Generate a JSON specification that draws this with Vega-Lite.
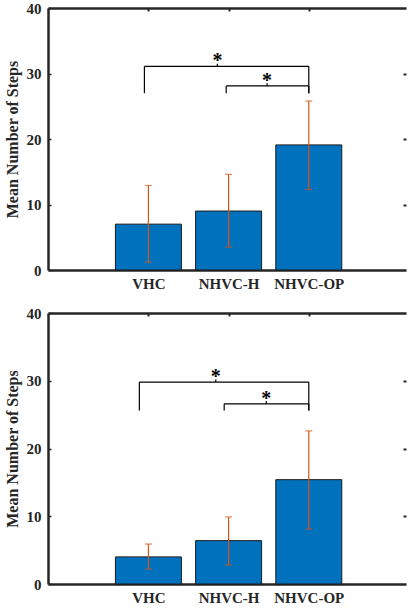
{
  "$schema": "https://vega.github.io/schema/vega-lite/v6.json",
  "background": "white",
  "padding": {"left": 4, "top": 1, "right": 0, "bottom": 0},
  "spacing": 15,
  "config": {
    "font": "Liberation Serif",
    "view": {"stroke": null},
    "axis": {
      "grid": false,
      "labelFont": "Liberation Serif",
      "labelFontWeight": "bold",
      "labelColor": "#262626",
      "titleFont": "Liberation Serif",
      "titleFontWeight": "bold",
      "titleColor": "#262626",
      "domainColor": "#262626",
      "tickColor": "#262626"
    }
  },
  "datasets": {
    "bars": [
      {"panel": "A", "group": "VHC", "pos": 1, "mean": 7.0, "lo": 1.2, "hi": 12.9},
      {"panel": "A", "group": "NHVC-H", "pos": 2, "mean": 9.0, "lo": 3.5, "hi": 14.6},
      {"panel": "A", "group": "NHVC-OP", "pos": 3, "mean": 19.1, "lo": 12.3, "hi": 25.8},
      {"panel": "B", "group": "VHC", "pos": 1, "mean": 4.0, "lo": 2.2, "hi": 5.9},
      {"panel": "B", "group": "NHVC-H", "pos": 2, "mean": 6.4, "lo": 2.8, "hi": 9.9},
      {"panel": "B", "group": "NHVC-OP", "pos": 3, "mean": 15.4, "lo": 8.1, "hi": 22.6}
    ],
    "brackets": [
      {"panel": "A", "x1": 0.95, "x2": 3.0, "y": 31.1, "ylow": 27.0, "sx": 1.86, "stick": 31.5, "sy": 32.6, "label": "*"},
      {"panel": "A", "x1": 1.97, "x2": 3.0, "y": 28.1, "ylow": 27.0, "sx": 2.48, "stick": 28.5, "sy": 29.6, "label": "*"},
      {"panel": "B", "x1": 0.887, "x2": 3.0, "y": 29.8, "ylow": 25.6, "sx": 1.84, "stick": 30.2, "sy": 31.3, "label": "*"},
      {"panel": "B", "x1": 1.945, "x2": 3.0, "y": 26.6, "ylow": 25.6, "sx": 2.47, "stick": 27.0, "sy": 28.1, "label": "*"}
    ]
  },
  "vconcat": [
    {
      "width": 358,
      "height": 262,
      "resolve": {"axis": {"x": "independent", "y": "independent"}},
      "layer": [
        {
          "data": {"name": "bars"},
          "transform": [{"filter": "datum.panel == 'A'"}],
          "mark": {"type": "bar", "width": 66, "fill": "#0072BD", "stroke": "#1a1a1a", "strokeWidth": 1},
          "encoding": {
            "x": {"field": "pos", "type": "quantitative", "scale": {"domain": [-0.19, 4.15], "nice": false, "zero": false},
                  "axis": {"orient": "bottom", "title": null, "values": [1, 2, 3], "ticks": false, "domainWidth": 2.5, "labelFontSize": 15, "labelPadding": 6,
                           "labelExpr": "datum.value == 1 ? 'VHC' : datum.value == 2 ? 'NHVC-H' : 'NHVC-OP'"}},
            "y": {"field": "mean", "type": "quantitative", "scale": {"domain": [0, 40], "nice": false},
                  "axis": {"orient": "left", "title": "Mean Number of Steps", "titleFontSize": 16, "titlePadding": 6, "values": [0, 10, 20, 30, 40], "tickSize": -3, "tickWidth": 1.5, "domainWidth": 2.5, "labelFontSize": 15, "labelPadding": 10}}
          }
        },
        {
          "data": {"name": "bars"},
          "transform": [{"filter": "datum.panel == 'A'"}],
          "mark": {"type": "point", "opacity": 0},
          "encoding": {
            "x": {"field": "pos", "type": "quantitative",
                  "axis": {"orient": "top", "title": null, "values": [1, 2, 3], "labels": false, "tickSize": -3, "tickWidth": 2, "domainWidth": 2.5}},
            "y": {"field": "mean", "type": "quantitative",
                  "axis": {"orient": "right", "title": null, "values": [10, 20, 30], "labels": false, "domain": false, "tickSize": -3, "tickWidth": 2}}
          }
        },
        {
          "data": {"name": "bars"},
          "transform": [{"filter": "datum.panel == 'A'"}],
          "mark": {"type": "rule", "color": "#D95319", "strokeWidth": 1.2},
          "encoding": {
            "x": {"field": "pos", "type": "quantitative", "axis": null},
            "y": {"field": "lo", "type": "quantitative", "axis": null},
            "y2": {"field": "hi"}
          }
        },
        {
          "data": {"name": "bars"},
          "transform": [{"filter": "datum.panel == 'A'"}],
          "mark": {"type": "tick", "orient": "horizontal", "size": 7, "thickness": 1.2, "color": "#D95319"},
          "encoding": {
            "x": {"field": "pos", "type": "quantitative", "axis": null},
            "y": {"field": "lo", "type": "quantitative", "axis": null}
          }
        },
        {
          "data": {"name": "bars"},
          "transform": [{"filter": "datum.panel == 'A'"}],
          "mark": {"type": "tick", "orient": "horizontal", "size": 7, "thickness": 1.2, "color": "#D95319"},
          "encoding": {
            "x": {"field": "pos", "type": "quantitative", "axis": null},
            "y": {"field": "hi", "type": "quantitative", "axis": null}
          }
        },
        {
          "data": {"name": "brackets"},
          "transform": [{"filter": "datum.panel == 'A'"}],
          "mark": {"type": "rule", "color": "#000000", "strokeWidth": 1.2},
          "encoding": {
            "x": {"field": "x1", "type": "quantitative", "axis": null},
            "x2": {"field": "x2"},
            "y": {"field": "y", "type": "quantitative", "axis": null}
          }
        },
        {
          "data": {"name": "brackets"},
          "transform": [{"filter": "datum.panel == 'A'"}],
          "mark": {"type": "rule", "color": "#000000", "strokeWidth": 1.2},
          "encoding": {
            "x": {"field": "x1", "type": "quantitative", "axis": null},
            "y": {"field": "ylow", "type": "quantitative", "axis": null},
            "y2": {"field": "y"}
          }
        },
        {
          "data": {"name": "brackets"},
          "transform": [{"filter": "datum.panel == 'A'"}],
          "mark": {"type": "rule", "color": "#000000", "strokeWidth": 1.2},
          "encoding": {
            "x": {"field": "x2", "type": "quantitative", "axis": null},
            "y": {"field": "ylow", "type": "quantitative", "axis": null},
            "y2": {"field": "y"}
          }
        },
        {
          "data": {"name": "brackets"},
          "transform": [{"filter": "datum.panel == 'A'"}],
          "mark": {"type": "rule", "color": "#000000", "strokeWidth": 1.2},
          "encoding": {
            "x": {"field": "sx", "type": "quantitative", "axis": null},
            "y": {"field": "y", "type": "quantitative", "axis": null},
            "y2": {"field": "stick"}
          }
        },
        {
          "data": {"name": "brackets"},
          "transform": [{"filter": "datum.panel == 'A'"}],
          "mark": {"type": "text", "font": "Liberation Serif", "fontWeight": "bold", "fontSize": 20, "baseline": "middle", "align": "center", "dy": 5, "color": "#000000"},
          "encoding": {
            "x": {"field": "sx", "type": "quantitative", "axis": null},
            "y": {"field": "sy", "type": "quantitative", "axis": null},
            "text": {"field": "label"}
          }
        }
      ]
    },
    {
      "width": 358,
      "height": 271,
      "resolve": {"axis": {"x": "independent", "y": "independent"}},
      "layer": [
        {
          "data": {"name": "bars"},
          "transform": [{"filter": "datum.panel == 'B'"}],
          "mark": {"type": "bar", "width": 66, "fill": "#0072BD", "stroke": "#1a1a1a", "strokeWidth": 1},
          "encoding": {
            "x": {"field": "pos", "type": "quantitative", "scale": {"domain": [-0.19, 4.15], "nice": false, "zero": false},
                  "axis": {"orient": "bottom", "title": null, "values": [1, 2, 3], "ticks": false, "domainWidth": 2.5, "labelFontSize": 15, "labelPadding": 6,
                           "labelExpr": "datum.value == 1 ? 'VHC' : datum.value == 2 ? 'NHVC-H' : 'NHVC-OP'"}},
            "y": {"field": "mean", "type": "quantitative", "scale": {"domain": [0, 40], "nice": false},
                  "axis": {"orient": "left", "title": "Mean Number of Steps", "titleFontSize": 16, "titlePadding": 6, "values": [0, 10, 20, 30, 40], "tickSize": -3, "tickWidth": 1.5, "domainWidth": 2.5, "labelFontSize": 15, "labelPadding": 10}}
          }
        },
        {
          "data": {"name": "bars"},
          "transform": [{"filter": "datum.panel == 'B'"}],
          "mark": {"type": "point", "opacity": 0},
          "encoding": {
            "x": {"field": "pos", "type": "quantitative",
                  "axis": {"orient": "top", "title": null, "values": [1, 2, 3], "labels": false, "tickSize": -3, "tickWidth": 2, "domainWidth": 2.5}},
            "y": {"field": "mean", "type": "quantitative",
                  "axis": {"orient": "right", "title": null, "values": [10, 20, 30], "labels": false, "domain": false, "tickSize": -3, "tickWidth": 2}}
          }
        },
        {
          "data": {"name": "bars"},
          "transform": [{"filter": "datum.panel == 'B'"}],
          "mark": {"type": "rule", "color": "#D95319", "strokeWidth": 1.2},
          "encoding": {
            "x": {"field": "pos", "type": "quantitative", "axis": null},
            "y": {"field": "lo", "type": "quantitative", "axis": null},
            "y2": {"field": "hi"}
          }
        },
        {
          "data": {"name": "bars"},
          "transform": [{"filter": "datum.panel == 'B'"}],
          "mark": {"type": "tick", "orient": "horizontal", "size": 7, "thickness": 1.2, "color": "#D95319"},
          "encoding": {
            "x": {"field": "pos", "type": "quantitative", "axis": null},
            "y": {"field": "lo", "type": "quantitative", "axis": null}
          }
        },
        {
          "data": {"name": "bars"},
          "transform": [{"filter": "datum.panel == 'B'"}],
          "mark": {"type": "tick", "orient": "horizontal", "size": 7, "thickness": 1.2, "color": "#D95319"},
          "encoding": {
            "x": {"field": "pos", "type": "quantitative", "axis": null},
            "y": {"field": "hi", "type": "quantitative", "axis": null}
          }
        },
        {
          "data": {"name": "brackets"},
          "transform": [{"filter": "datum.panel == 'B'"}],
          "mark": {"type": "rule", "color": "#000000", "strokeWidth": 1.2},
          "encoding": {
            "x": {"field": "x1", "type": "quantitative", "axis": null},
            "x2": {"field": "x2"},
            "y": {"field": "y", "type": "quantitative", "axis": null}
          }
        },
        {
          "data": {"name": "brackets"},
          "transform": [{"filter": "datum.panel == 'B'"}],
          "mark": {"type": "rule", "color": "#000000", "strokeWidth": 1.2},
          "encoding": {
            "x": {"field": "x1", "type": "quantitative", "axis": null},
            "y": {"field": "ylow", "type": "quantitative", "axis": null},
            "y2": {"field": "y"}
          }
        },
        {
          "data": {"name": "brackets"},
          "transform": [{"filter": "datum.panel == 'B'"}],
          "mark": {"type": "rule", "color": "#000000", "strokeWidth": 1.2},
          "encoding": {
            "x": {"field": "x2", "type": "quantitative", "axis": null},
            "y": {"field": "ylow", "type": "quantitative", "axis": null},
            "y2": {"field": "y"}
          }
        },
        {
          "data": {"name": "brackets"},
          "transform": [{"filter": "datum.panel == 'B'"}],
          "mark": {"type": "rule", "color": "#000000", "strokeWidth": 1.2},
          "encoding": {
            "x": {"field": "sx", "type": "quantitative", "axis": null},
            "y": {"field": "y", "type": "quantitative", "axis": null},
            "y2": {"field": "stick"}
          }
        },
        {
          "data": {"name": "brackets"},
          "transform": [{"filter": "datum.panel == 'B'"}],
          "mark": {"type": "text", "font": "Liberation Serif", "fontWeight": "bold", "fontSize": 20, "baseline": "middle", "align": "center", "dy": 5, "color": "#000000"},
          "encoding": {
            "x": {"field": "sx", "type": "quantitative", "axis": null},
            "y": {"field": "sy", "type": "quantitative", "axis": null},
            "text": {"field": "label"}
          }
        }
      ]
    }
  ]
}
